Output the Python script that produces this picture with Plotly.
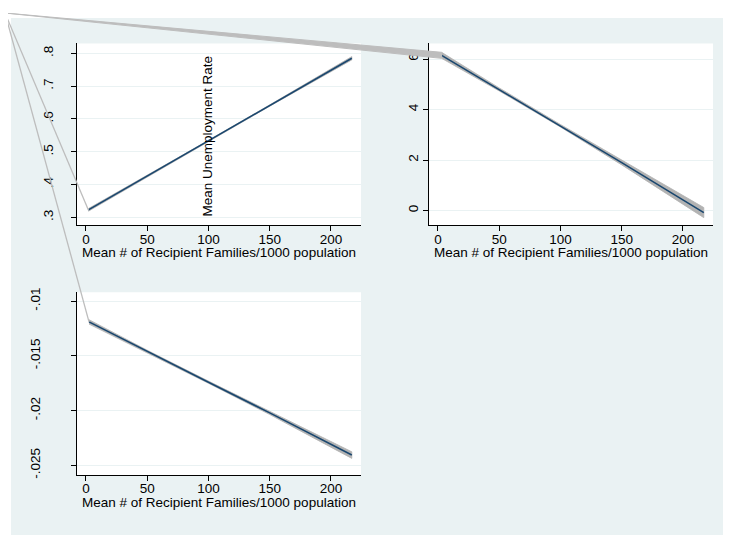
import plotly.graph_objects as go

# ---------------- data ----------------
x_mean_families = [2, 50, 100, 150, 217]

unemp_fit = [0.323, 0.426, 0.533, 0.641, 0.785]
unemp_ci_half = [0.004, 0.002, 0.002, 0.002, 0.005]

panel2_x = [3, 50, 100, 150, 217]
panel2_fit = [6.15, 4.80, 3.36, 1.90, -0.08]
panel2_ci_half = [0.12, 0.06, 0.05, 0.09, 0.20]

panel3_x = [2.5, 50, 100, 150, 217]
panel3_fit = [-0.0119, -0.0146, -0.0174, -0.0202, -0.02405]
panel3_ci_half = [0.0002, 0.00012, 0.0001, 0.00015, 0.0003]

x_ticks = [0, 50, 100, 150, 200]
y1_ticks = [0.3, 0.4, 0.5, 0.6, 0.7, 0.8]
y1_text = [".3", ".4", ".5", ".6", ".7", ".8"]
y2_ticks = [0, 2, 4, 6]
y2_text = ["0", "2", "4", "6"]
y3_ticks = [-0.025, -0.02, -0.015, -0.01]
y3_text = ["-.025", "-.02", "-.015", "-.01"]

x_title = "Mean # of Recipient Families/1000 population"
inner_label = "Mean Unemployment Rate"

# ---------------- layout geometry ----------------
PAGE_W, PAGE_H = 731, 539
OFF = 8  # default body margin of the html page
W, H = PAGE_W - OFF, PAGE_H - OFF
FONT = "Liberation Sans, Arial, Helvetica, sans-serif"
FS = 13.5
NAVY = "#1a476f"
BAND = "#b3b3b3"
CONNECT = "#bdbdbd"
OUTER_BG = "#eaf2f3"

# panel boxes in page pixels: (left, right, top, bottom)
BOX1 = (77, 361, 39, 224)
BOX2 = (429, 713, 39, 224)
BOX3 = (77, 361, 292, 478)
XR = [-7.3, 224.5]
YR1 = [0.276, 0.830]
YR2 = [-0.585, 6.62]
YR3 = [-0.02587, -0.00919]
CORNER = (5, 8)
TITLE_GAP = 28  # px below the x axis line to the title centre


def dom_x(b):
    return [(b[0] - OFF) / W, (b[1] - OFF) / W]


def dom_y(b):
    return [1 - (b[3] - OFF) / H, 1 - (b[2] - OFF) / H]


def to_px(b, yr, x, y):
    px = b[0] + (x - XR[0]) / (XR[1] - XR[0]) * (b[1] - b[0])
    py = b[3] - (y - yr[0]) / (yr[1] - yr[0]) * (b[3] - b[2])
    return px, py


fig = go.Figure()


def add_panel(xs, fit, half, xa, ya):
    up = [f + h for f, h in zip(fit, half)]
    lo = [f - h for f, h in zip(fit, half)]
    fig.add_trace(go.Scatter(
        x=list(xs) + list(xs)[::-1], y=up + lo[::-1],
        fill="toself", fillcolor=BAND, mode="lines",
        line=dict(color=BAND, width=0.8), xaxis=xa, yaxis=ya,
        showlegend=False, hoverinfo="skip"))
    fig.add_trace(go.Scatter(
        x=xs, y=fit, mode="lines", line=dict(color=NAVY, width=1.6),
        xaxis=xa, yaxis=ya, showlegend=False))


add_panel(x_mean_families, unemp_fit, unemp_ci_half, "x", "y")
add_panel(panel2_x, panel2_fit, panel2_ci_half, "x2", "y2")
add_panel(panel3_x, panel3_fit, panel3_ci_half, "x3", "y3")

# ---- stray connector lines from the page corner to each band start ----
k1 = to_px(BOX1, YR1, XR[0], 0.4)
s1 = to_px(BOX1, YR1, x_mean_families[0], unemp_fit[0])
fig.add_trace(go.Scatter(
    x=[CORNER[0], k1[0], s1[0]], y=[CORNER[1], k1[1], s1[1]],
    mode="lines", line=dict(color=CONNECT, width=1.3),
    xaxis="x4", yaxis="y4", showlegend=False, hoverinfo="skip"))

u2 = to_px(BOX2, YR2, panel2_x[0], panel2_fit[0] + panel2_ci_half[0])
l2 = to_px(BOX2, YR2, panel2_x[0], panel2_fit[0] - panel2_ci_half[0])
fig.add_trace(go.Scatter(
    x=[CORNER[0], u2[0], l2[0], CORNER[0]],
    y=[CORNER[1], u2[1], l2[1], CORNER[1]],
    mode="lines", fill="toself", fillcolor=CONNECT,
    line=dict(color=CONNECT, width=1.0),
    xaxis="x4", yaxis="y4", showlegend=False, hoverinfo="skip"))

s3 = to_px(BOX3, YR3, panel3_x[0], panel3_fit[0])
fig.add_trace(go.Scatter(
    x=[CORNER[0], s3[0]], y=[CORNER[1], s3[1]],
    mode="lines", line=dict(color=CONNECT, width=1.3),
    xaxis="x4", yaxis="y4", showlegend=False, hoverinfo="skip"))

# ---------------- axes ----------------
tickfont = dict(family=FONT, size=FS, color="black")


def xaxis(box, anchor):
    return dict(domain=dom_x(box), anchor=anchor, range=XR,
                tickvals=x_ticks, ticks="outside", ticklen=5,
                tickcolor="black", showline=True, linecolor="black",
                linewidth=1, showgrid=False, zeroline=False,
                tickfont=tickfont, ticklabelstandoff=-4)


def yaxis(box, anchor, yr, tv, tt, standoff):
    return dict(domain=dom_y(box), anchor=anchor, range=yr,
                tickvals=tv, ticktext=tt, ticks="outside", ticklen=5,
                tickcolor="black", showline=True, linecolor="black",
                linewidth=1, showgrid=True, gridcolor=OUTER_BG,
                gridwidth=1, zeroline=False, tickangle=-90,
                tickfont=tickfont, ticklabelstandoff=standoff)


shapes = [
    dict(type="rect", xref="paper", yref="paper", x0=(11 - OFF) / W, x1=1,
         y0=0, y1=1 - (13 - OFF) / H, fillcolor=OUTER_BG, line_width=0,
         layer="below"),
]
for b in (BOX1, BOX2, BOX3):
    dx, dy = dom_x(b), dom_y(b)
    shapes.append(dict(type="rect", xref="paper", yref="paper",
                       x0=dx[0], x1=dx[1], y0=dy[0], y1=dy[1],
                       fillcolor="white", line_width=0, layer="below"))

annotations = [dict(text=inner_label, xref="x", yref="y", x=99,
                    y=0.547, textangle=-90, showarrow=False,
                    font=dict(family=FONT, size=FS, color="black"))]
for b in (BOX1, BOX2, BOX3):
    dx = dom_x(b)
    annotations.append(dict(
        text=x_title, xref="paper", yref="paper",
        x=(dx[0] + dx[1]) / 2, y=1 - (b[3] + TITLE_GAP - OFF) / H,
        xanchor="center", yanchor="middle", showarrow=False,
        font=dict(family=FONT, size=FS, color="black")))

fig.update_layout(
    width=W, height=H,
    margin=dict(l=0, r=0, t=0, b=0),
    paper_bgcolor="white",
    plot_bgcolor="rgba(0,0,0,0)",
    font=dict(family=FONT, size=FS, color="black"),
    xaxis=xaxis(BOX1, "y"),
    yaxis=yaxis(BOX1, "x", YR1, y1_ticks, y1_text, 13),
    xaxis2=xaxis(BOX2, "y2"),
    yaxis2=yaxis(BOX2, "x2", YR2, y2_ticks, y2_text, 0),
    xaxis3=xaxis(BOX3, "y3"),
    yaxis3=yaxis(BOX3, "x3", YR3, y3_ticks, y3_text, 26),
    xaxis4=dict(domain=[0, 1], anchor="y4", range=[OFF, PAGE_W],
                visible=False, fixedrange=True),
    yaxis4=dict(domain=[0, 1], anchor="x4", range=[PAGE_H, OFF],
                visible=False, fixedrange=True),
    shapes=shapes,
    annotations=annotations,
)

fig.write_html("out.html")
